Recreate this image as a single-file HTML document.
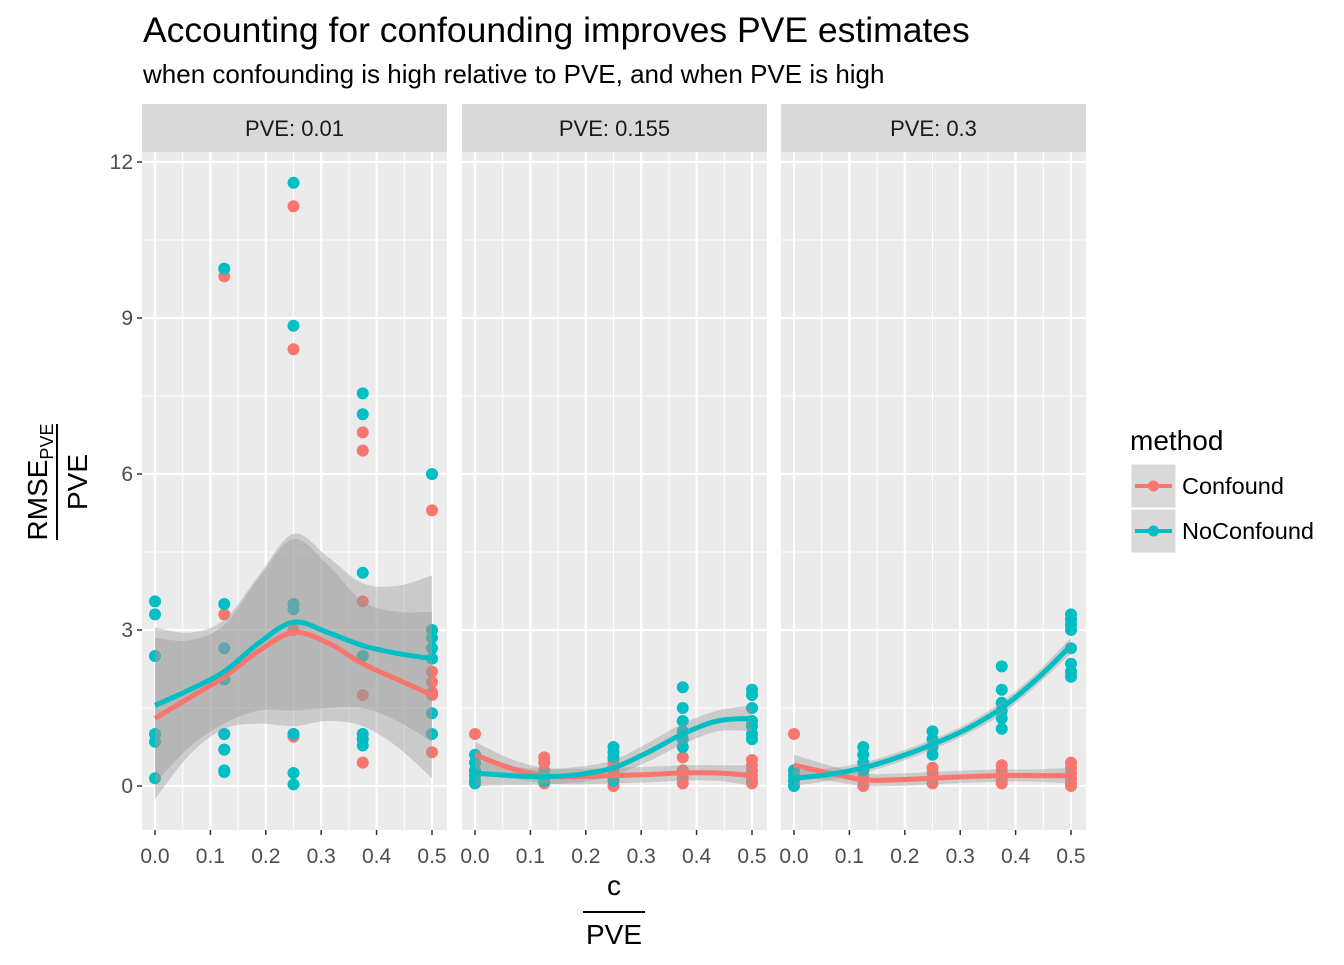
<!DOCTYPE html>
<html><head><meta charset="utf-8">
<style>
body{margin:0;background:#fff;font-family:"Liberation Sans",sans-serif;}
svg text{font-family:"Liberation Sans",sans-serif;}
</style></head>
<body>
<svg id="c" width="1344" height="960" xmlns="http://www.w3.org/2000/svg">
<text x="143" y="42" font-size="35.5" fill="#000">Accounting for confounding improves PVE estimates</text>
<text x="143" y="83" font-size="26" fill="#000">when confounding is high relative to PVE, and when PVE is high</text>
<g transform="translate(57,482) rotate(-90)">
<text x="0" y="-10" font-size="28" text-anchor="middle">RMSE<tspan font-size="18" dy="6">PVE</tspan></text>
<line x1="-58" x2="58" y1="0" y2="0" stroke="#000" stroke-width="2"/>
<text x="0" y="30" font-size="28" text-anchor="middle">PVE</text>
</g>
<g>
<text x="614" y="895" font-size="28" text-anchor="middle">c</text>
<line x1="583" x2="645" y1="912" y2="912" stroke="#000" stroke-width="2"/>
<text x="614" y="944" font-size="28" text-anchor="middle">PVE</text>
</g>
<g>
<text x="1130" y="450" font-size="28">method</text>
<g>
<rect x="1131" y="464" width="45" height="44" fill="#d9d9d9" stroke="#fff"/>
<line x1="1135" x2="1172" y1="486" y2="486" stroke="#f8766d" stroke-width="4"/>
<circle cx="1153.5" cy="486" r="5.5" fill="#f8766d"/>
<text x="1182" y="494" font-size="23.5">Confound</text></g>
<g>
<rect x="1131" y="509" width="45" height="44" fill="#d9d9d9" stroke="#fff"/>
<line x1="1135" x2="1172" y1="531" y2="531" stroke="#00bfc4" stroke-width="4"/>
<circle cx="1153.5" cy="531" r="5.5" fill="#00bfc4"/>
<text x="1182" y="539" font-size="23.5">NoConfound</text></g>
</g>
</svg>
<script>
const panelTitles=["PVE: 0.01","PVE: 0.155","PVE: 0.3"];
const xTicks=[0,0.1,0.2,0.3,0.4,0.5];
const xTickLabels=["0.0","0.1","0.2","0.3","0.4","0.5"];
const yTicks=[0,3,6,9,12];
const yTickLabels=["0","3","6","9","12"];
const xLevels=[0,0.125,0.25,0.375,0.5];
const smoothX=[0,0.0625,0.125,0.1875,0.25,0.3125,0.375,0.4375,0.5];
const confoundPts=[
 [[1.0],[9.8,3.3,2.05,1.0,0.7],[11.15,8.4,3.0,1.0,0.95],[6.8,6.45,3.55,1.75,0.9,0.45],[5.3,2.2,2.0,1.8,1.75,0.65]],
 [[1.0,0.3,0.2],[0.55,0.45,0.3,0.1,0.05],[0.5,0.4,0.3,0.1,0.0],[0.9,0.55,0.3,0.15,0.05],[0.5,0.4,0.3,0.2,0.1,0.05]],
 [[1.0,0.3,0.2,0.1],[0.3,0.2,0.1,0.0],[0.35,0.25,0.15,0.05],[0.4,0.3,0.2,0.1,0.05],[0.45,0.35,0.25,0.15,0.05,0.0]]
];
const noConfoundPts=[
 [[3.55,3.3,2.5,1.0,0.85,0.15],[9.95,3.5,2.65,2.05,1.0,0.7,0.3,0.27],[11.6,8.85,3.5,3.4,1.0,0.25,0.03],[7.55,7.15,4.1,2.5,1.0,0.9,0.78],[6.0,3.0,2.85,2.65,2.45,1.4,1.0]],
 [[0.6,0.45,0.3,0.2,0.1,0.05],[0.2,0.1],[0.75,0.65,0.55,0.1],[1.9,1.5,1.25,1.05,0.9,0.75],[1.85,1.75,1.5,1.25,1.15,1.0,0.9]],
 [[0.3,0.2,0.1,0.0],[0.75,0.6,0.45,0.3],[1.05,0.9,0.75,0.6],[2.3,1.85,1.6,1.45,1.3,1.1],[3.3,3.2,3.1,3.0,2.65,2.35,2.2,2.1]]
];
const confoundFit=[
 [1.3,1.7,2.1,2.6,2.95,2.75,2.35,2.05,1.75],
 [0.6,0.35,0.2,0.18,0.2,0.22,0.25,0.25,0.2],
 [0.4,0.25,0.12,0.12,0.15,0.18,0.2,0.2,0.2]
];
const confoundSE=[
 [1.55,1.1,1.0,1.4,1.8,1.5,1.2,1.3,1.6],
 [0.25,0.18,0.15,0.15,0.15,0.15,0.15,0.15,0.2],
 [0.2,0.15,0.12,0.12,0.12,0.12,0.12,0.12,0.15]
];
const noConfoundFit=[
 [1.55,1.85,2.2,2.75,3.15,2.95,2.7,2.55,2.45],
 [0.25,0.2,0.18,0.22,0.35,0.65,1.0,1.25,1.3],
 [0.15,0.22,0.35,0.55,0.8,1.1,1.5,2.05,2.7]
];
const noConfoundSE=[
 [1.5,1.1,1.0,1.3,1.7,1.45,1.2,1.3,1.6],
 [0.25,0.18,0.15,0.15,0.15,0.18,0.2,0.2,0.25],
 [0.15,0.12,0.1,0.1,0.1,0.1,0.12,0.12,0.15]
];
const NS="http://www.w3.org/2000/svg";
const svgEl=document.getElementById('c');
const panelLeft=[142,462,781], panelW=305, plotTop=152, plotBottom=830;
const yScale=v=>786-52*v;
function mk(tag,attrs,parent){const e=document.createElementNS(NS,tag);for(const k in attrs)e.setAttribute(k,attrs[k]);(parent||svgEl).appendChild(e);return e;}
function spline(pts){let d="M"+pts[0][0]+","+pts[0][1];for(let i=0;i<pts.length-1;i++){const p0=pts[Math.max(i-1,0)],p1=pts[i],p2=pts[i+1],p3=pts[Math.min(i+2,pts.length-1)];
 d+=" C"+(p1[0]+(p2[0]-p0[0])/6)+","+(p1[1]+(p2[1]-p0[1])/6)+" "+(p2[0]-(p3[0]-p1[0])/6)+","+(p2[1]-(p3[1]-p1[1])/6)+" "+p2[0]+","+p2[1];}return d;}
for(let p=0;p<3;p++){
 const L=panelLeft[p];
 const xs=v=>L+13+v*554;
 const g=mk('g',{});
 
 
 const bg=mk('rect',{x:L,y:plotTop,width:panelW,height:plotBottom-plotTop,fill:'#ebebeb'},g);
 
 
 for(let i=0;i<yTicks.length-1;i++){const v=(yTicks[i]+yTicks[i+1])/2;mk('line',{x1:L,x2:L+panelW,y1:yScale(v),y2:yScale(v),stroke:'#fff','stroke-width':1},g);}
 for(let i=0;i<xTicks.length-1;i++){const v=(xTicks[i]+xTicks[i+1])/2;mk('line',{y1:plotTop,y2:plotBottom,x1:xs(v),x2:xs(v),stroke:'#fff','stroke-width':1},g);}
 yTicks.forEach(v=>mk('line',{x1:L,x2:L+panelW,y1:yScale(v),y2:yScale(v),stroke:'#fff','stroke-width':2.2},g));
 xTicks.forEach((v,i)=>{mk('line',{y1:plotTop,y2:plotBottom,x1:xs(v),x2:xs(v),stroke:'#fff','stroke-width':2.2},g);
  mk('line',{y1:plotBottom,y2:plotBottom+5,x1:xs(v),x2:xs(v),stroke:'#333','stroke-width':1.5},g);
  const t=mk('text',{x:xs(v),y:plotBottom+33,'font-size':21,'text-anchor':'middle',fill:'#4d4d4d'},g);t.textContent=xTickLabels[i];
  
  });
 const st=mk('rect',{x:L,y:104,width:panelW,height:48,fill:'#d9d9d9'},g);
 
 
 const stt=mk('text',{x:L+panelW/2,y:136,'font-size':22,'text-anchor':'middle',fill:'#1a1a1a'},g);stt.textContent=panelTitles[p];
 
 
 [[confoundPts,'#f8766d'],[noConfoundPts,'#00bfc4']].forEach(([arr,col])=>{
  arr[p].forEach((vals,xi)=>vals.forEach(v=>{const c=mk('circle',{cx:xs(xLevels[xi]),cy:yScale(v),r:6,fill:col},g);
   
   }));});
 [[confoundFit,confoundSE],[noConfoundFit,noConfoundSE]].forEach(([f,s])=>{
  const up=smoothX.map((x,i)=>[xs(x),yScale(f[p][i]+s[p][i])]);
  const lo=smoothX.map((x,i)=>[xs(x),yScale(f[p][i]-s[p][i])]).reverse();
  const d=spline(up)+" L"+spline(lo).slice(1)+" Z";
  const b=mk('path',{d:d,fill:'#999',opacity:0.4},g);
  
  });
 [[confoundFit,'#f8766d','confound-fit-line'],[noConfoundFit,'#00bfc4','noconfound-fit-line']].forEach(([f,col,nm])=>{
  const pts=smoothX.map((x,i)=>[xs(x),yScale(f[p][i])]);
  const l=mk('path',{d:spline(pts),fill:'none',stroke:col,'stroke-width':5},g);
  
  });
 if(p===0){yTicks.forEach((v,i)=>{mk('line',{x1:L-5,x2:L,y1:yScale(v),y2:yScale(v),stroke:'#333','stroke-width':1.5},g);
  const t=mk('text',{x:L-9,y:yScale(v)+7,'font-size':21,'text-anchor':'end',fill:'#4d4d4d'},g);t.textContent=yTickLabels[i];
  
  });}
}
</script>
</body></html>
